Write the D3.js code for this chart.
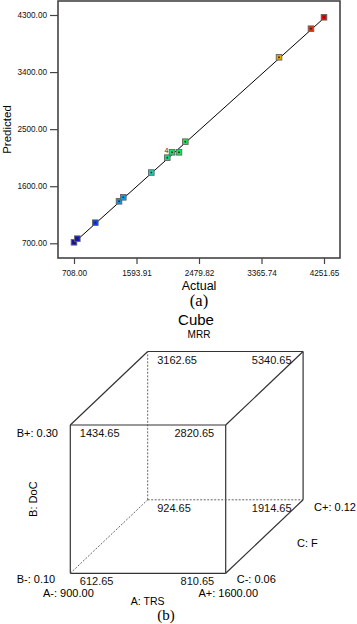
<!DOCTYPE html>
<html>
<head>
<meta charset="utf-8">
<script src="https://cdn.jsdelivr.net/npm/d3@7"></script>
<style>
  body { margin: 0; background: #fff; }
  svg { display: block; font-family: 'Liberation Sans', Arial, sans-serif; }
</style>
</head>
<body>
<svg id="chart" width="357" height="624"></svg>
<script>
// (a) predicted vs actual
const actual = [708, 755, 1010, 1346, 1407, 1804, 2030, 2097, 2196, 2286, 3614, 4067, 4251.65]
const predicted = [716, 773, 1025, 1362, 1425, 1816, 2050, 2135, 2135, 2302, 3633, 4084, 4264]
const xTicks = [708, 1593.91, 2479.82, 3365.74, 4251.65]
const yTicks = [700, 1600, 2500, 3400, 4300]

// (b) cube corners: A = TRS, B = DoC, C = F
const levelsA = [900, 1600]
const levelsB = [0.10, 0.30]
const levelsC = [0.06, 0.12]
const cubeA = [0, 1, 0, 1, 0, 1, 0, 1]
const cubeB = [0, 0, 1, 1, 0, 0, 1, 1]
const cubeC = [0, 0, 0, 0, 1, 1, 1, 1]
const cubeMRR = [612.65, 810.65, 1434.65, 2820.65, 924.65, 1914.65, 3162.65, 5340.65]

const svg = d3.select('#chart')

/* ---------- (a) ---------- */
const frame = { left: 58, right: 340, top: 1, bottom: 258 }

const x = d3.scaleLinear().domain([708, 4251.65]).range([74, 324])
const y = d3.scaleLinear().domain([700, 4300]).range([243.3, 15])

const colorScale = d3
  .scaleLinear()
  .domain([708, 1000, 1400, 1800, 2200, 3600, 4251.65])
  .range(['#1414b8', '#0a3cf0', '#0aa0e6', '#14d2b4', '#14e650', '#e6a800', '#e60000'])

const plot = svg.append('g')

plot
  .append('g')
  .attr('class', 'x-axis')
  .attr('transform', 'translate(0,' + frame.bottom + ')')
  .call(d3.axisBottom(x).tickValues(xTicks).tickSize(6).tickPadding(6).tickFormat(d3.format('.2f')))

plot
  .append('g')
  .attr('class', 'y-axis')
  .attr('transform', 'translate(' + frame.left + ',0)')
  .call(d3.axisLeft(y).tickValues(yTicks).tickSize(8).tickPadding(3).tickFormat(d3.format('.2f')))

plot.selectAll('.domain').remove()
plot.selectAll('.tick line').attr('stroke', '#444').attr('stroke-width', 1.2)
plot.selectAll('.tick text').attr('font-size', 8.2).attr('fill', '#111')

plot
  .append('rect')
  .attr('x', frame.left)
  .attr('y', frame.top)
  .attr('width', frame.right - frame.left)
  .attr('height', frame.bottom - frame.top)
  .attr('fill', 'none')
  .attr('stroke', '#444')
  .attr('stroke-width', 1.6)

// reference line actual = predicted
const lo = d3.min(actual)
const hi = d3.max(actual)
plot
  .append('line')
  .attr('x1', x(lo))
  .attr('y1', y(lo))
  .attr('x2', x(hi))
  .attr('y2', y(hi))
  .attr('stroke', '#000')
  .attr('stroke-width', 1)

const pts = actual.map((a, i) => ({ a: a, p: predicted[i] }))

plot
  .selectAll('rect.pt')
  .data(pts)
  .enter()
  .append('rect')
  .attr('class', 'pt')
  .attr('x', d => x(d.a) - 2.8)
  .attr('y', d => y(d.p) - 2.8)
  .attr('width', 5.6)
  .attr('height', 5.6)
  .attr('fill', d => colorScale(d.a))
  .attr('stroke', '#666')
  .attr('stroke-width', 0.9)

plot
  .selectAll('rect.dot')
  .data(pts)
  .enter()
  .append('rect')
  .attr('class', 'dot')
  .attr('x', d => x(d.a) - 0.8)
  .attr('y', d => y(d.p) - 0.8)
  .attr('width', 1.6)
  .attr('height', 1.6)
  .attr('fill', '#222')

// replicate count label next to the overlapping points
plot
  .append('text')
  .attr('x', x(actual[7]) - 3.5)
  .attr('y', y(predicted[7]) + 0.5)
  .attr('text-anchor', 'end')
  .attr('font-size', 7)
  .attr('fill', '#333')
  .text('4')

plot
  .append('text')
  .attr('x', (frame.left + frame.right) / 2)
  .attr('y', 289.5)
  .attr('text-anchor', 'middle')
  .attr('font-size', 12.5)
  .text('Actual')

plot
  .append('text')
  .attr('transform', 'translate(10.5,' + (frame.top + frame.bottom) / 2 + ') rotate(-90)')
  .attr('text-anchor', 'middle')
  .attr('font-size', 11.5)
  .text('Predicted')

plot
  .append('text')
  .attr('x', 199)
  .attr('y', 306)
  .attr('text-anchor', 'middle')
  .attr('font-family', "'Liberation Serif', 'Times New Roman', serif")
  .attr('font-size', 16.5)
  .text('(a)')

/* ---------- (b) ---------- */
const cube = svg.append('g')

const xA = d3.scaleLinear().domain(levelsA).range([70.3, 225.7])
const yB = d3.scaleLinear().domain(levelsB).range([573.3, 425])
const depth = d3.scaleLinear().domain(levelsC).range([0, 1])
const depthDx = 77.4
const depthDy = -73.5

function project(a, b, c) {
  const t = depth(c)
  return [xA(a) + t * depthDx, yB(b) + t * depthDy]
}

const corners = cubeMRR.map((v, i) => {
  const a = levelsA[cubeA[i]]
  const b = levelsB[cubeB[i]]
  const c = levelsC[cubeC[i]]
  const pt = project(a, b, c)
  return { i: cubeA[i], j: cubeB[i], k: cubeC[i], x: pt[0], y: pt[1], v: v }
})

function corner(i, j, k) {
  return corners.find(d => d.i === i && d.j === j && d.k === k)
}

// edges: pairs of corners that differ in one factor
const edges = []
corners.forEach(p => {
  corners.forEach(q => {
    const diff = (p.i !== q.i) + (p.j !== q.j) + (p.k !== q.k)
    if (diff === 1 && (p.i + p.j + p.k) < (q.i + q.j + q.k)) edges.push([p, q])
  })
})

// hidden corner is A-, B-, C+
const hidden = corner(0, 0, 1)

cube
  .selectAll('line.edge')
  .data(edges)
  .enter()
  .append('line')
  .attr('class', 'edge')
  .attr('x1', d => d[0].x)
  .attr('y1', d => d[0].y)
  .attr('x2', d => d[1].x)
  .attr('y2', d => d[1].y)
  .attr('stroke', d => (d[0] === hidden || d[1] === hidden ? '#555' : '#333'))
  .attr('stroke-width', d => (d[0] === hidden || d[1] === hidden ? 0.9 : 1.2))
  .attr('stroke-dasharray', d => (d[0] === hidden || d[1] === hidden ? '2,1.5' : null))

cube
  .selectAll('text.val')
  .data(corners)
  .enter()
  .append('text')
  .attr('class', 'val')
  .attr('x', d => (d.i === 0 ? d.x + 9.5 : d.x - 11.5))
  .attr('y', d => d.y + 12)
  .attr('text-anchor', d => (d.i === 0 ? 'start' : 'end'))
  .attr('font-size', 11)
  .attr('fill', '#111')
  .text(d => d3.format('.2f')(d.v))

const fmt2 = d3.format('.2f')
const labelFont = 11

// factor B labels (left)
levelsB.forEach((b, n) => {
  cube
    .append('text')
    .attr('x', 16.7)
    .attr('y', yB(b) + (n === 0 ? 9.5 : 11.5))
    .attr('font-size', labelFont)
    .text('B' + (n === 0 ? '-' : '+') + ': ' + fmt2(b))
})

cube
  .append('text')
  .attr('transform', 'translate(37,' + (yB(levelsB[0]) + yB(levelsB[1])) / 2 + ') rotate(-90)')
  .attr('text-anchor', 'middle')
  .attr('font-size', labelFont)
  .text('B: DoC')

// factor A labels (bottom)
levelsA.forEach((a, n) => {
  cube
    .append('text')
    .attr('x', xA(a) - 27.3)
    .attr('y', 597)
    .attr('font-size', labelFont)
    .text('A' + (n === 0 ? '-' : '+') + ': ' + fmt2(a))
})

cube
  .append('text')
  .attr('x', 147.7)
  .attr('y', 605)
  .attr('text-anchor', 'middle')
  .attr('font-size', 10.5)
  .text('A: TRS')

// factor C labels (right)
levelsC.forEach((c, n) => {
  const pt = project(levelsA[1], levelsB[0], c)
  cube
    .append('text')
    .attr('x', pt[0] + 11)
    .attr('y', pt[1] + (n === 0 ? 9.5 : 11))
    .attr('font-size', labelFont)
    .text('C' + (n === 0 ? '-' : '+') + ': ' + fmt2(c))
})

cube
  .append('text')
  .attr('x', 297)
  .attr('y', 546.5)
  .attr('font-size', labelFont)
  .text('C: F')

cube
  .append('text')
  .attr('x', 196)
  .attr('y', 324.5)
  .attr('text-anchor', 'middle')
  .attr('font-size', 15)
  .text('Cube')

cube
  .append('text')
  .attr('x', 199)
  .attr('y', 337.5)
  .attr('text-anchor', 'middle')
  .attr('font-size', 10)
  .text('MRR')

cube
  .append('text')
  .attr('x', 166)
  .attr('y', 620)
  .attr('text-anchor', 'middle')
  .attr('font-family', "'Liberation Serif', 'Times New Roman', serif")
  .attr('font-size', 15)
  .text('(b)')
</script>
</body>
</html>
